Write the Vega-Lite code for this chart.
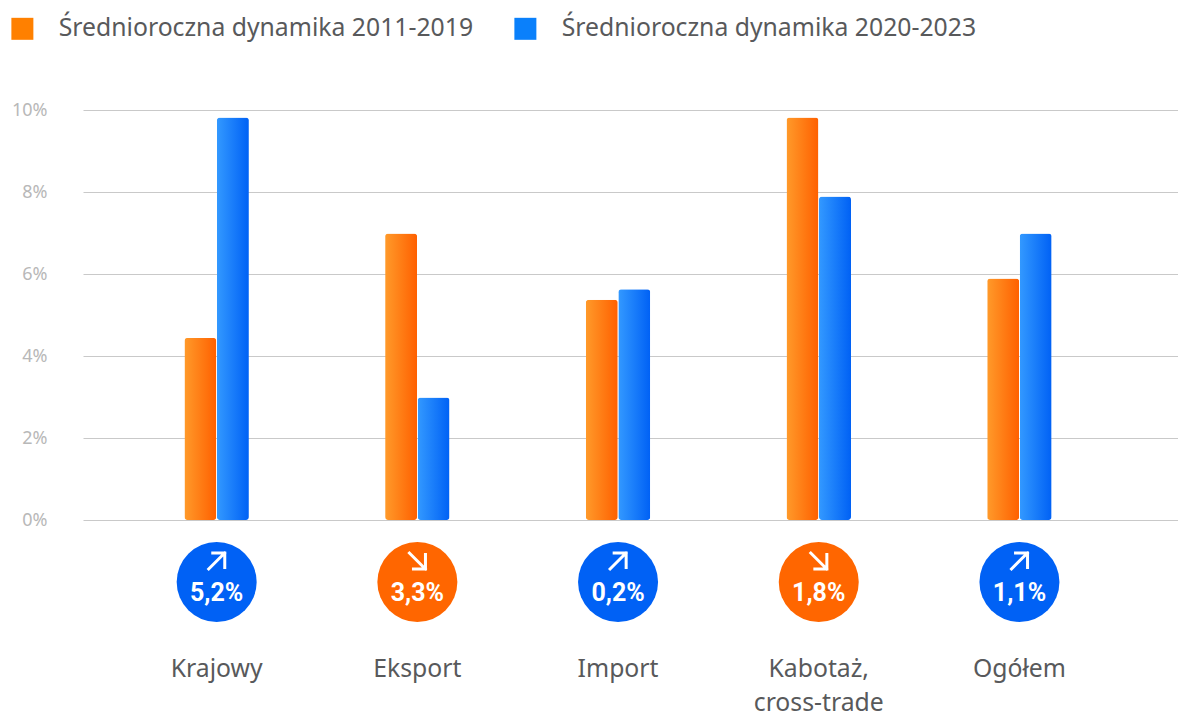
{
"$schema":"https://vega.github.io/schema/vega-lite/v6.json",
"width":1095,"height":410,
"autosize":{"type":"none"},
"padding":{"left":83,"top":110,"right":0,"bottom":196},
"background":"white",
"datasets":{
"bars":[
{"c":"Krajowy","s":"Średnioroczna dynamika 2011-2019","v":4.44},
{"c":"Krajowy","s":"Średnioroczna dynamika 2020-2023","v":9.82},
{"c":"Eksport","s":"Średnioroczna dynamika 2011-2019","v":6.99},
{"c":"Eksport","s":"Średnioroczna dynamika 2020-2023","v":2.99},
{"c":"Import","s":"Średnioroczna dynamika 2011-2019","v":5.37},
{"c":"Import","s":"Średnioroczna dynamika 2020-2023","v":5.63},
{"c":"Kabotaż,\ncross-trade","s":"Średnioroczna dynamika 2011-2019","v":9.82},
{"c":"Kabotaż,\ncross-trade","s":"Średnioroczna dynamika 2020-2023","v":7.89},
{"c":"Ogółem","s":"Średnioroczna dynamika 2011-2019","v":5.89},
{"c":"Ogółem","s":"Średnioroczna dynamika 2020-2023","v":6.99}],
"badges":[
{"c":"Krajowy","change":"5,2%","dir":"up"},
{"c":"Eksport","change":"3,3%","dir":"down"},
{"c":"Import","change":"0,2%","dir":"up"},
{"c":"Kabotaż,\ncross-trade","change":"1,8%","dir":"down"},
{"c":"Ogółem","change":"1,1%","dir":"up"}]
},
"encoding":{
"x":{"field":"c","type":"nominal","sort":null,
"scale":{"domain":["Krajowy","Eksport","Import","Kabotaż,\ncross-trade","Ogółem"],"paddingInner":0,"paddingOuter":0.228,"align":0.364},
"axis":{"title":null,"orient":"bottom","domain":false,"ticks":false,"labelAngle":0,"labelPadding":136,"labelFont":"Noto Sans","labelFontSize":24.75,"labelColor":"#58595b","labelBaseline":"top","labelLineHeight":34,"labelExpr":"split(datum.label,'\\n')"}}
},
"layer":[
{"data":{"name":"bars"},
"mark":{"type":"bar","width":32,"cornerRadius":3,"clip":false,"fillOpacity":0},
"encoding":{
"xOffset":{"field":"s","type":"nominal","scale":{"range":[67.85,132.85],"paddingInner":0,"paddingOuter":0}},
"y":{"field":"v","type":"quantitative","scale":{"domain":[0,10],"nice":false},
"axis":{"title":null,"values":[0,2,4,6,8,10],"domain":false,"ticks":false,"grid":true,"gridColor":"#c9c9c9","gridWidth":1,"labelPadding":36,"labelFont":"Noto Sans","labelFontSize":18,"labelColor":"#b8b8b8","labelExpr":"datum.value+'%'"}},
"color":{"field":"s","type":"nominal",
"scale":{"domain":["Średnioroczna dynamika 2011-2019","Średnioroczna dynamika 2020-2023"],"range":["#ff8000","#0a80fb"]},
"legend":{"title":null,"orient":"none","legendX":-73,"legendY":-94,"direction":"horizontal","symbolType":"square","symbolSize":484,"symbolStrokeWidth":0,"labelFont":"Noto Sans","labelFontSize":24.75,"labelColor":"#58595b","labelOffset":24,"labelLimit":600,"columnPadding":39}}
}},
{"data":{"name":"bars"},
"mark":{"type":"bar","width":32,"cornerRadius":3,"clip":false},
"encoding":{
"xOffset":{"field":"s","type":"nominal","scale":{"range":[67.85,132.85],"paddingInner":0,"paddingOuter":0}},
"y":{"field":"v","type":"quantitative"},
"color":{"condition":{"test":"indexof(datum.s,'2011')>0","value":{"gradient":"linear","x1":0,"y1":0,"x2":1,"y2":0,"stops":[{"offset":0,"color":"#ff9a2a"},{"offset":1,"color":"#ff6000"}]}},
"value":{"gradient":"linear","x1":0,"y1":0,"x2":1,"y2":0,"stops":[{"offset":0,"color":"#3399ff"},{"offset":1,"color":"#0061f5"}]}}
}},
{"data":{"name":"badges"},
"mark":{"type":"point","filled":true,"shape":"circle","size":6400,"opacity":1,"clip":false},
"encoding":{
"y":{"datum":-1.512,"type":"quantitative"},
"color":{"field":"dir","type":"nominal","scale":{"domain":["up","down"],"range":["#0061f5","#ff6600"]},"legend":null}
}},
{"data":{"name":"badges"},
"mark":{"type":"point","filled":false,"stroke":"white","strokeWidth":3,"size":324,"opacity":1,"clip":false},
"encoding":{
"y":{"datum":-1,"type":"quantitative"},
"shape":{"field":"dir","type":"nominal","scale":{"domain":["up","down"],"range":["M-1 1L1 -1M-0.6 -0.9L0.9 -0.9L0.9 0.9","M-1 -1L1 1M-0.6 0.9L0.9 0.9L0.9 -0.9"]},"legend":null}
}},
{"data":{"name":"badges"},
"mark":{"type":"text","font":"Roboto","fontWeight":"bold","fontSize":25,"color":"white","clip":false},
"encoding":{
"y":{"datum":-1.78,"type":"quantitative"},
"text":{"field":"change","type":"nominal"}
}}
],
"resolve":{"scale":{"color":"independent"}},
"config":{"view":{"stroke":null},"axis":{"gridOpacity":1}}
}
